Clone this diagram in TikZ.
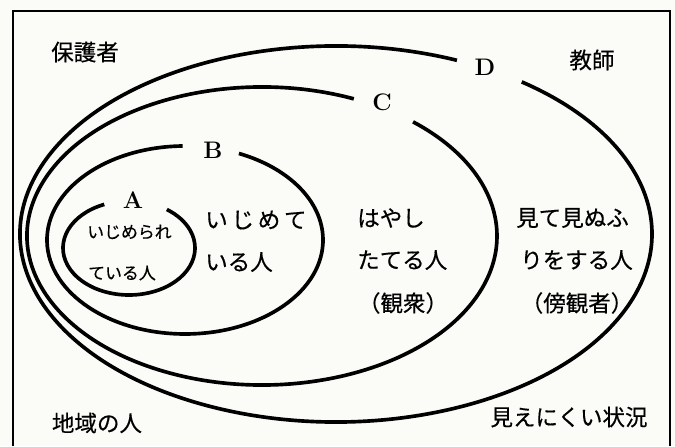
\documentclass[tikz,border=0pt]{standalone}
\usepackage{fontspec}
\newfontfamily\jpfont[FakeBold=0.4]{Noto Sans CJK JP}
\usetikzlibrary{positioning}
\definecolor{paper}{RGB}{251,251,247}

\begin{document}
\begin{tikzpicture}[x=0.025cm,y=0.025cm,
  ring/.style={line width=2.6pt},
  letter/.style={font=\fontsize{17}{17}\selectfont\bfseries, inner sep=1pt},
  jp/.style={font=\jpfont\fontsize{16}{16}\selectfont, inner sep=0pt},
  jpsmall/.style={font=\jpfont\fontsize{12}{12}\selectfont, inner sep=0pt}]

  \useasboundingbox (0,0) rectangle (675,446);
  \fill[paper] (0,0) rectangle (675,446);
  \draw[line width=1.1pt] (13,0) -- (13,435) -- (670,435) -- (670,0);

  % nested rings, each open where its letter sits
  \draw[ring] ([shift={(67.5:316 and 188)}]336,212) arc[start angle=67.5, end angle=414, x radius=316, y radius=188];
  \draw[ring] ([shift={(67:235 and 149)}]262,210) arc[start angle=67, end angle=410, x radius=235, y radius=149];
  \draw[ring] ([shift={(91:138 and 94)}]185,206) arc[start angle=91, end angle=427, x radius=138, y radius=94];
  \draw[ring] ([shift={(112:66 and 47)}]129,198) arc[start angle=112, end angle=415, x radius=66, y radius=47];

  \node[letter] (D) at (485,379) {D};
  \node[letter] (C) at (382,344) {C};
  \node[letter] (B) at (213,296) {B};
  \node[letter] (A) at (133,246) {A};

  \node[jpsmall, anchor=west] (a1) at (87,214) {いじめられ};
  \node[jpsmall, anchor=west] (a2) at (88,173) {ている人};

  \node[jp, anchor=west] (b1) at (205,226) {い\,じ\,め\,て};
  \node[jp, anchor=west] (b2) at (205,184) {いる人};

  \node[jp, anchor=west] (c1) at (357,228) {はやし};
  \node[jp, anchor=west] (c2) at (357,186) {たてる人};
  \node[jp] (c3) at (403,143) {（観衆）};

  \node[jp, anchor=west] (d1) at (516,228) {見て見ぬふ};
  \node[jp, anchor=west] (d2) at (520,186) {りをする人};
  \node[jp] (d3) at (577,143) {（傍観者）};

  \node[jp] (parents) at (85,394) {保護者};
  \node[jp] (teachers) at (592,386) {教師};
  \node[jp] (locals) at (97,23) {地域の人};
  \node[jp] (hidden) at (569,29) {見えにくい状況};

\end{tikzpicture}
\end{document}
